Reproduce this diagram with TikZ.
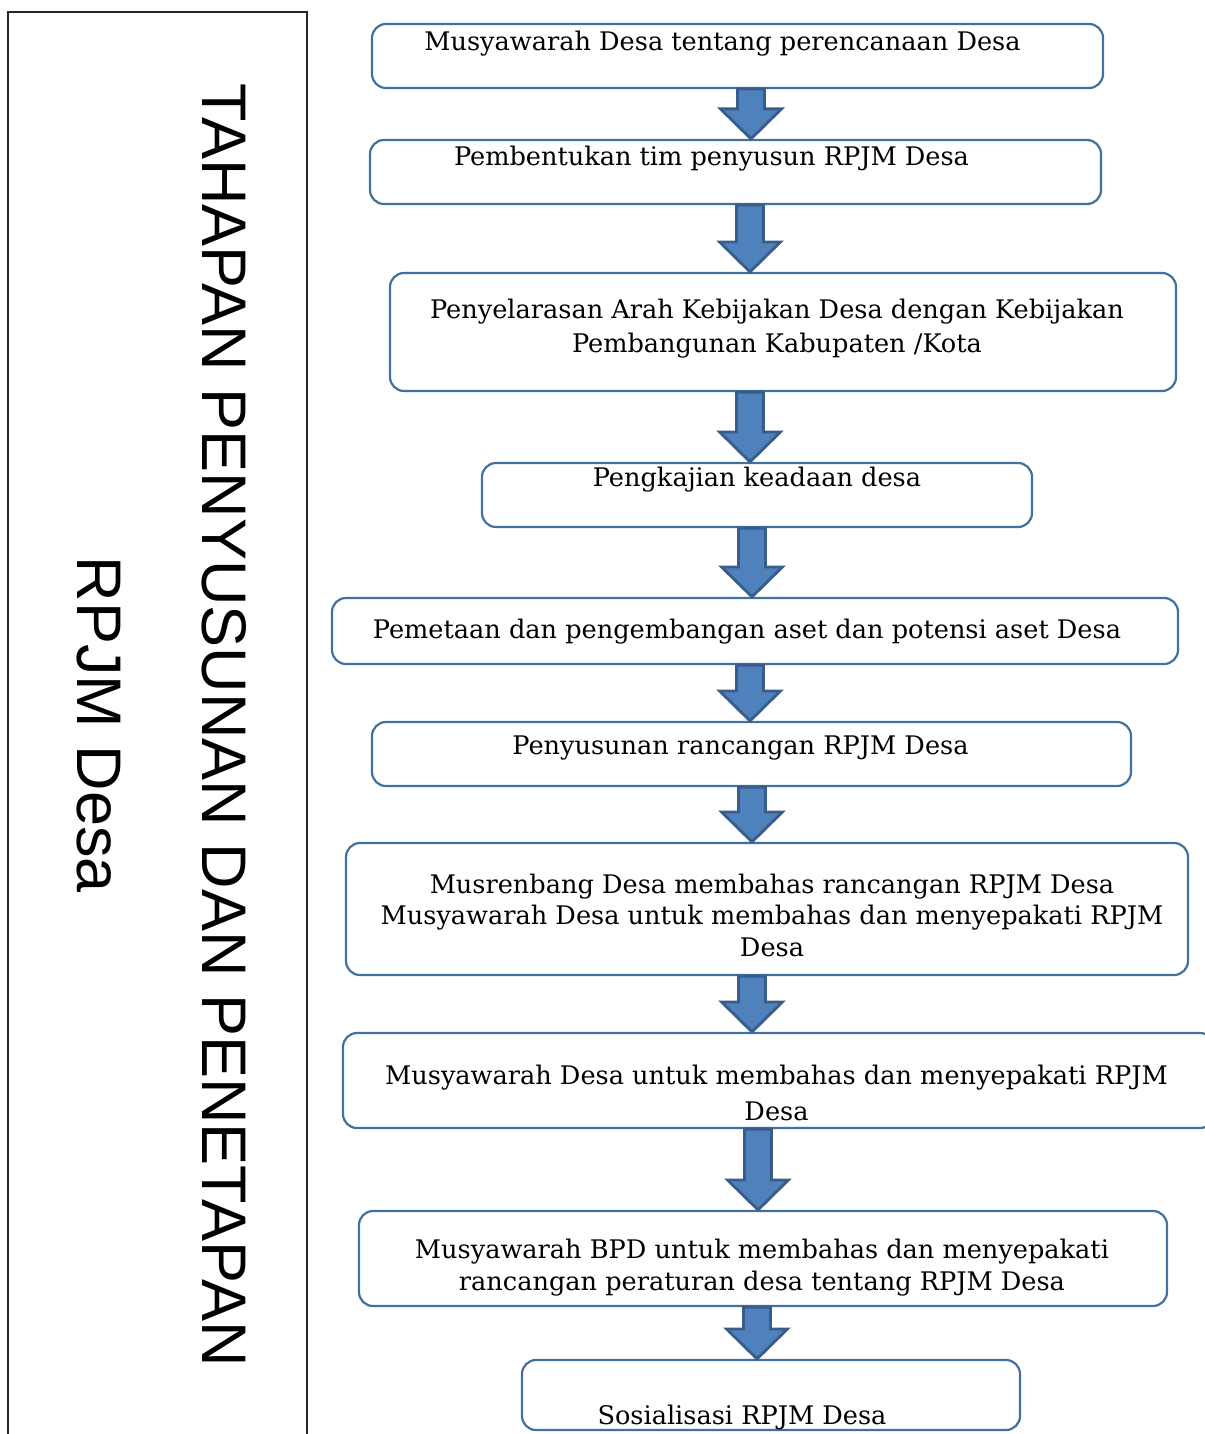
\documentclass[tikz,border=0pt]{standalone}
\usepackage{fontspec}
\setmainfont{DejaVu Serif}
\newfontfamily\titlefont{Liberation Sans}
\usetikzlibrary{calc}
\definecolor{boxblue}{RGB}{65,113,156}
\definecolor{arrowfill}{RGB}{79,129,189}
\definecolor{arrowline}{RGB}{56,93,138}

\begin{document}
\begin{tikzpicture}[
  x=1pt, y=-1pt,
  box/.style={draw=boxblue, line width=2.2pt, rounded corners=14pt, inner sep=0pt},
  lbl/.style={font=\fontsize{25.6}{34}\selectfont, align=center, inner sep=0pt},
  blk/.style={fill=arrowfill, draw=arrowline, line width=2.8pt, line join=miter}
]
\useasboundingbox (0,0) rectangle (1204,1434);

% left panel
\draw[line width=2pt, black!85] (8,1445) -- (8,12) -- (307,12) -- (307,1445);
\node[font=\titlefont\fontsize{63}{125}\selectfont, align=center, rotate=-90] (title) at (162,725)
  {TAHAPAN PENYUSUNAN DAN PENETAPAN\\RPJM Desa};

% steps
\node[box, minimum width=731pt, minimum height=64pt,
  label={[lbl, xshift=-15pt, yshift=12pt]center:Musyawarah Desa tentang perencanaan Desa}] (b1) at (737.5,56) {};
\node[box, minimum width=731pt, minimum height=64pt,
  label={[lbl, xshift=-24pt, yshift=13pt]center:Pembentukan tim penyusun RPJM Desa}] (b2) at (735.5,172) {};
\node[box, minimum width=786pt, minimum height=118pt,
  label={[lbl, xshift=-6pt, yshift=3pt]center:Penyelarasan Arah Kebijakan Desa dengan Kebijakan\\Pembangunan Kabupaten /Kota}] (b3) at (783,332) {};
\node[box, minimum width=550pt, minimum height=64pt,
  label={[lbl, yshift=15pt]center:Pengkajian keadaan desa}] (b4) at (757,495) {};
\node[box, minimum width=846pt, minimum height=66pt,
  label={[lbl, xshift=-8pt, yshift=-1pt]center:Pemetaan dan pengembangan aset dan potensi aset Desa}] (b5) at (755,631) {};
\node[box, minimum width=759pt, minimum height=64pt,
  label={[lbl, xshift=-11pt, yshift=6pt]center:Penyusunan rancangan RPJM Desa}] (b6) at (751.5,754) {};
\node[box, minimum width=842pt, minimum height=132pt,
  label={[lbl, font=\fontsize{25.6}{31.5}\selectfont, xshift=5pt, yshift=-6pt]center:Musrenbang Desa membahas rancangan RPJM Desa\\Musyawarah Desa untuk membahas dan menyepakati RPJM\\Desa}] (b7) at (767,909) {};
\node[box, minimum width=871pt, minimum height=95pt,
  label={[lbl, font=\fontsize{25.6}{36}\selectfont, xshift=-2pt, yshift=-12pt]center:Musyawarah Desa untuk membahas dan menyepakati RPJM\\Desa}] (b8) at (778.5,1080.5) {};
\node[box, minimum width=808pt, minimum height=95pt,
  label={[lbl, font=\fontsize{25.6}{32}\selectfont, xshift=-1pt, yshift=-9pt]center:Musyawarah BPD untuk membahas dan menyepakati\\rancangan peraturan desa tentang RPJM Desa}] (b9) at (763,1258.5) {};
\node[box, minimum width=498pt, minimum height=70pt,
  label={[lbl, xshift=-29pt, yshift=-22pt]center:Sosialisasi RPJM Desa}] (b10) at (771,1395) {};

% block arrows
\foreach \from/\to/\ax in {b1/b2/751, b2/b3/750, b3/b4/750, b4/b5/752, b5/b6/750,
                           b6/b7/752, b7/b8/752, b8/b9/758, b9/b10/757}
  \draw[blk] let \p1=(\ax,0), \p2=(\from.south), \p3=(\to.north) in
    (\x1-13.5pt,\y2) -- (\x1+13.5pt,\y2) -- (\x1+13.5pt,\y3+30pt) -- (\x1+30.5pt,\y3+30pt)
    -- (\x1,\y3) -- (\x1-30.5pt,\y3+30pt) -- (\x1-13.5pt,\y3+30pt) -- cycle;
\end{tikzpicture}
\end{document}
